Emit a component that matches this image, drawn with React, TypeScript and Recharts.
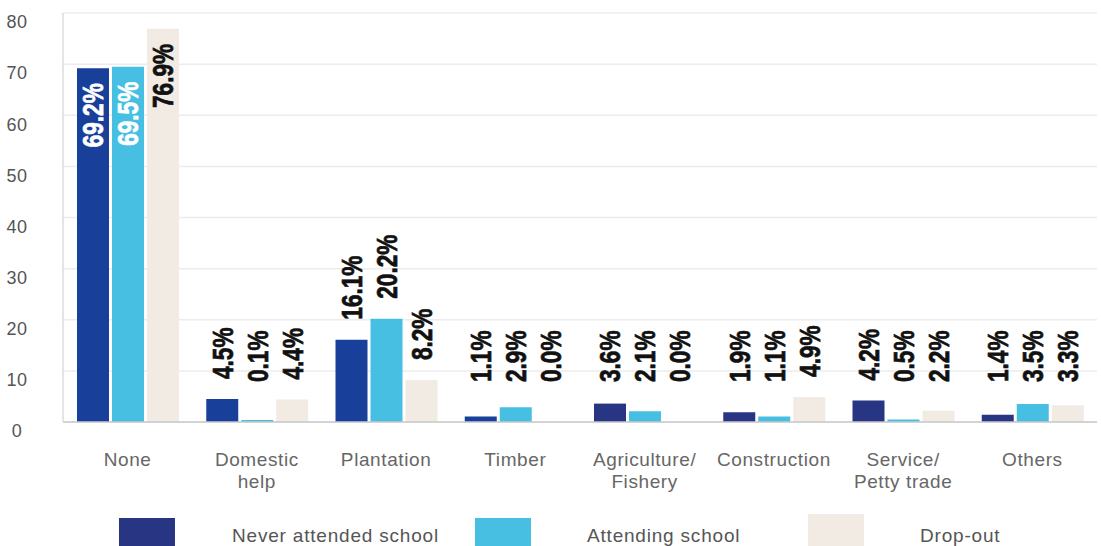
import React from "react";
import { BarChart, Bar, XAxis, YAxis, CartesianGrid, LabelList, Cell } from "recharts";

const categories = ["None", "Domestic\nhelp", "Plantation", "Timber", "Agriculture/\nFishery", "Construction", "Service/\nPetty trade", "Others"];
const neverAttended = [69.2, 4.5, 16.1, 1.1, 3.6, 1.9, 4.2, 1.4];
const attending = [69.5, 0.1, 20.2, 2.9, 2.1, 1.1, 0.5, 3.5];
const dropOut = [76.9, 4.4, 8.2, 0.0, 0.0, 4.9, 2.2, 3.3];
const yTicks = [0, 10, 20, 30, 40, 50, 60, 70, 80];
const seriesNames = ["Never attended school", "Attending school", "Drop-out"];

const neverColors = ["#18409a", "#18409a", "#18409a", "#18409a", "#283583", "#283583", "#283583", "#283583"];
const CYAN = "#46bfe2";
const BEIGE = "#f1ebe4";
const LEGEND_NAVY = "#283583";

const data = categories.map((c, i) => ({
  cat: c,
  never: neverAttended[i],
  attending: attending[i],
  drop: dropOut[i],
}));

const FONT = "'Liberation Sans', Arial, Helvetica, sans-serif";

const makeLabel = (seriesIdx: number) => (props: any) => {
  const { x, y, width, value, index } = props;
  const cx = Number(x) + Number(width) / 2;
  const top = Number(y);
  const inside = index === 0;
  const anchorY = inside ? top + 15 : Math.min(top - 20, 382);
  const fill = inside && seriesIdx < 2 ? "#ffffff" : "#111111";
  return (
    <text
      transform={`translate(${cx},${anchorY}) rotate(-90) scale(0.78,1)`}
      textAnchor={inside ? "end" : "start"}
      dy="0.36em"
      fontSize={29}
      fontWeight={700}
      fontFamily={FONT}
      fill={fill}
      stroke={fill}
      strokeWidth={0.7}
    >
      {Number(value).toFixed(1)}%
    </text>
  );
};

const XTick = (props: any) => {
  const { x, y, payload } = props;
  const lines = String(payload.value).split("\n");
  return (
    <text x={x} y={Number(y) + 44} textAnchor="middle" fontSize={19} letterSpacing={0.6} fontFamily={FONT} fill="#666">
      {lines.map((l, i) => (
        <tspan key={i} x={x} dy={i === 0 ? 0 : 22}>
          {l}
        </tspan>
      ))}
    </text>
  );
};

const YTick = (props: any) => {
  const { y, payload } = props;
  return (
    <text x={17} y={Number(y) + 9} dy="0.35em" textAnchor="middle" fontSize={18} letterSpacing={0.5} fontFamily={FONT} fill="#555">
      {payload.value}
    </text>
  );
};

const legendColors = [LEGEND_NAVY, CYAN, BEIGE];
const legendRectX = [119, 475, 808];
const legendRectY = [518, 518, 514];
const legendTextX = [232, 587, 920];

const thinMin = (v: any) => (Number(v) > 0 && Number(v) < 0.4 ? 2 : Number(v) === 0 ? 0.01 : 0);

export default function App() {
  return (
    <div style={{ position: "absolute", left: 0, top: 0, width: 1101, height: 546, background: "#fff", overflow: "hidden" }}>
      <BarChart
        width={1101}
        height={546}
        data={data}
        margin={{ top: 13, right: 4, left: 0, bottom: 0 }}
        barGap={3}
        barSize={32}
      >
        <CartesianGrid horizontal vertical={false} stroke="#ececec" strokeWidth={1.5} />
        <XAxis
          dataKey="cat"
          interval={0}
          tickLine={false}
          tickSize={0}
          tickMargin={0}
          height={124}
          axisLine={{ stroke: "#c8c8c8", strokeWidth: 1.5 }}
          tick={<XTick />}
        />
        <YAxis
          width={63}
          domain={[0, 80]}
          ticks={yTicks}
          tickLine={false}
          axisLine={{ stroke: "#dddddd", strokeWidth: 1.5 }}
          tick={<YTick />}
        />
        <Bar dataKey="never" name={seriesNames[0]} isAnimationActive={false}>
          {data.map((_, i) => (
            <Cell key={i} fill={neverColors[i]} />
          ))}
          <LabelList dataKey="never" content={makeLabel(0)} />
        </Bar>
        <Bar dataKey="attending" name={seriesNames[1]} fill={CYAN} isAnimationActive={false} minPointSize={thinMin}>
          <LabelList dataKey="attending" content={makeLabel(1)} />
        </Bar>
        <Bar dataKey="drop" name={seriesNames[2]} fill={BEIGE} isAnimationActive={false} minPointSize={thinMin}>
          <LabelList dataKey="drop" content={makeLabel(2)} />
        </Bar>
      </BarChart>
      <svg width={1101} height={546} style={{ position: "absolute", left: 0, top: 0, pointerEvents: "none" }}>
        {seriesNames.map((n, i) => (
          <g key={n}>
            <rect x={legendRectX[i]} y={legendRectY[i]} width={56} height={34} fill={legendColors[i]} />
            <text x={legendTextX[i]} y={542} fontSize={19} letterSpacing={0.8} fontFamily={FONT} fill="#555">
              {n}
            </text>
          </g>
        ))}
      </svg>
    </div>
  );
}
